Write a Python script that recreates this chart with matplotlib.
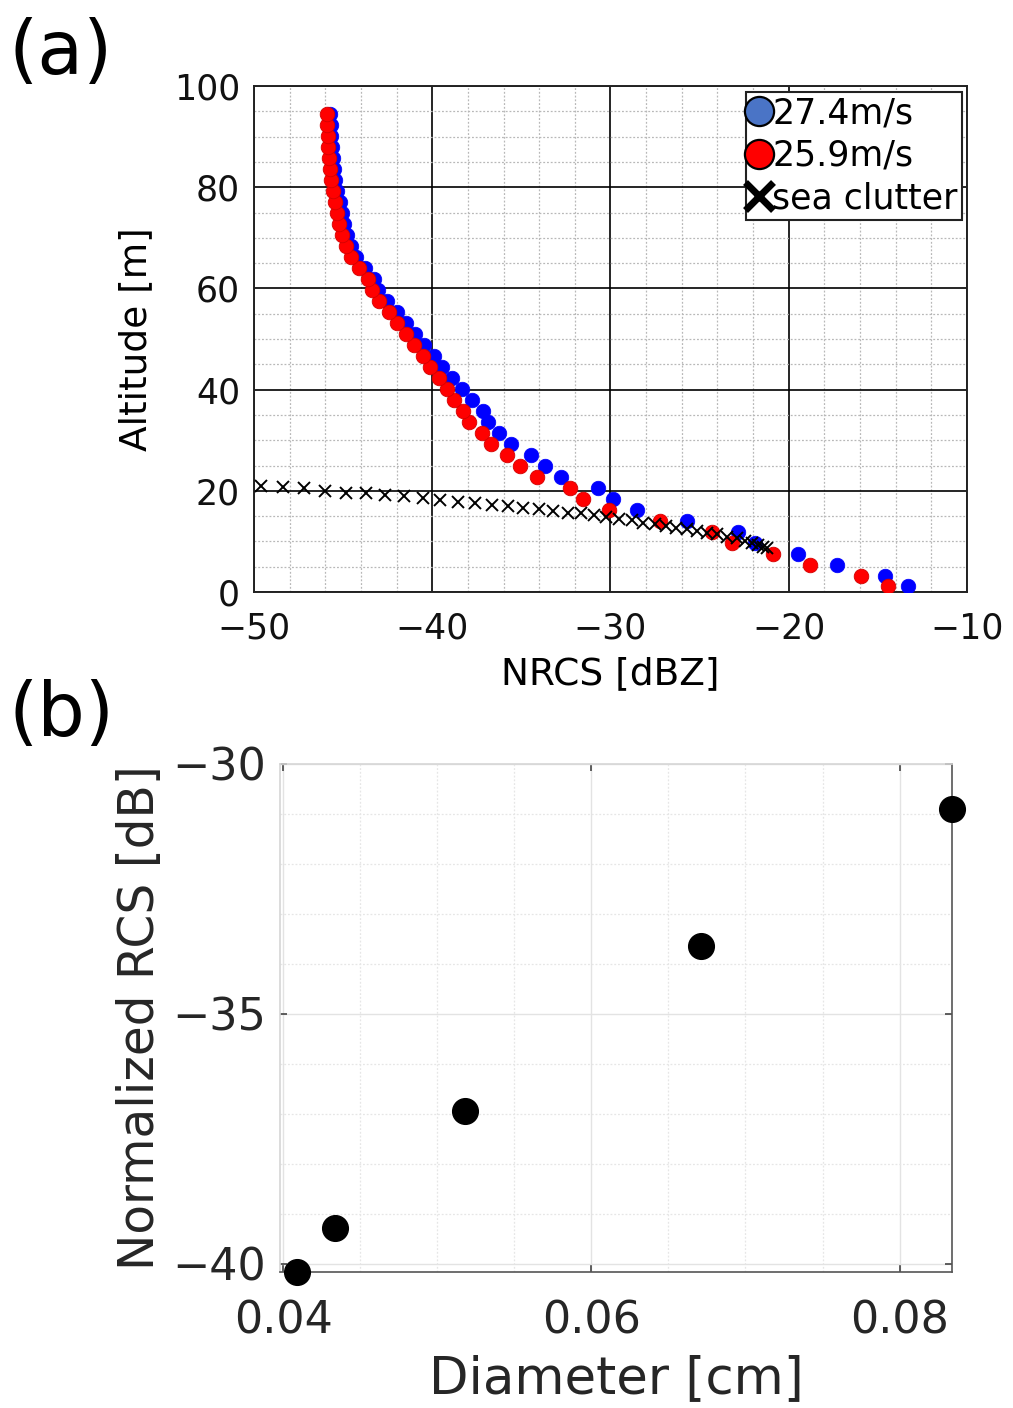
import matplotlib
matplotlib.use("Agg")
import matplotlib.pyplot as plt
from matplotlib.lines import Line2D
from matplotlib.ticker import MultipleLocator, FormatStrFormatter

plt.rcParams['font.family'] = ['DejaVu Sans']

# ---- (a) NRCS profiles versus altitude ----
altitude = [1.10, 3.27, 5.44, 7.61, 9.78, 11.95, 14.12, 16.29, 18.46, 20.63,
            22.80, 24.97, 27.14, 29.31, 31.48, 33.65, 35.82, 37.99, 40.16, 42.33,
            44.50, 46.67, 48.84, 51.01, 53.18, 55.35, 57.52, 59.69, 61.86, 64.03,
            66.20, 68.37, 70.54, 72.71, 74.88, 77.05, 79.22, 81.39, 83.56, 85.73,
            87.90, 90.07, 92.24, 94.41]

nrcs_274 = [-13.33, -14.60, -17.31, -19.46, -21.89, -22.86, -25.73, -28.50, -29.88, -30.68,
            -32.79, -33.67, -34.48, -35.58, -36.24, -36.86, -37.17, -37.79, -38.35, -38.91,
            -39.47, -39.90, -40.45, -40.95, -41.48, -41.96, -42.55, -43.02, -43.27, -43.76,
            -44.27, -44.56, -44.76, -44.93, -45.06, -45.20, -45.34, -45.45, -45.51, -45.56,
            -45.63, -45.67, -45.69, -45.72]

nrcs_259 = [-14.45, -15.95, -18.81, -20.87, -23.18, -24.32, -27.22, -30.07, -31.53, -32.27,
            -34.10, -35.08, -35.79, -36.72, -37.23, -37.92, -38.26, -38.76, -39.19, -39.60,
            -40.13, -40.50, -41.01, -41.47, -41.96, -42.41, -42.97, -43.40, -43.62, -44.09,
            -44.58, -44.85, -45.05, -45.21, -45.32, -45.45, -45.58, -45.68, -45.73, -45.77,
            -45.83, -45.87, -45.89, -45.92]

clutter_nrcs = [-49.61, -48.39, -47.18, -46.00, -44.84, -43.72, -42.63, -41.57, -40.54, -39.57,
                -38.57, -37.58, -36.65, -35.77, -34.89, -34.03, -33.21, -32.40, -31.65, -30.93,
                -30.24, -29.52, -28.81, -28.16, -27.50, -26.89, -26.33, -25.73, -25.16, -24.60,
                -24.04, -23.48, -22.92, -22.45, -22.06, -21.73, -21.44, -21.22]
clutter_alt = [20.95, 20.69, 20.49, 20.02, 19.62, 19.51, 19.17, 18.91, 18.58, 18.18,
               17.79, 17.53, 17.19, 17.00, 16.66, 16.34, 16.07, 15.71, 15.55, 15.22,
               14.88, 14.47, 14.15, 13.74, 13.44, 13.10, 12.71, 12.45, 12.06, 11.72,
               11.46, 10.93, 10.61, 10.18, 9.78, 9.39, 8.99, 8.64]

series_labels = ['27.4m/s', '25.9m/s', 'sea clutter']

# ---- (b) normalized RCS versus drop diameter ----
diameter = [0.0409, 0.0434, 0.0518, 0.0671, 0.0834]
norm_rcs = [-40.16, -39.28, -36.94, -33.65, -30.90]

fig = plt.figure(figsize=(10.13, 14.08), dpi=100)

# Panel (a)
ax1 = fig.add_axes([0.2507, 0.5795, 0.7039, 0.3594])
ax1.plot(nrcs_274, altitude, 'o', color='#0000ff', markersize=10.5,
         markeredgecolor='#0000ff', markeredgewidth=0.5, zorder=3)
ax1.plot(nrcs_259, altitude, 'o', color='#ff0000', markersize=10.5,
         markeredgecolor='#d40000', markeredgewidth=0.6, zorder=4)
ax1.plot(clutter_nrcs, clutter_alt, 'x', color='black', markersize=9,
         markeredgewidth=1.4, zorder=5)

ax1.set_xlim(-50, -10)
ax1.set_ylim(0, 100)
ax1.xaxis.set_major_locator(MultipleLocator(10))
ax1.yaxis.set_major_locator(MultipleLocator(20))
ax1.xaxis.set_minor_locator(MultipleLocator(2))
ax1.yaxis.set_minor_locator(MultipleLocator(5))
ax1.grid(which='major', color='black', linewidth=1.2, linestyle='-', zorder=1)
ax1.grid(which='minor', color='#b8b8b8', linewidth=0.9, linestyle=(0, (1.5, 1.5)), zorder=1)
ax1.set_axisbelow(True)
for s in ax1.spines.values():
    s.set_linewidth(1.4)
    s.set_color('#222222')
ax1.tick_params(which='both', direction='in', length=0, labelsize=25, colors='#111111')
ax1.tick_params(axis='x', pad=14)
ax1.tick_params(axis='y', pad=10)
ax1.set_xlabel('NRCS [dBZ]', fontsize=27, labelpad=8)
ax1.set_ylabel('Altitude [m]', fontsize=27, labelpad=14)

legend_handles = [
    Line2D([], [], linestyle='none', marker='o', markersize=21,
           markerfacecolor='#4a74c6', markeredgecolor='black', markeredgewidth=1.6),
    Line2D([], [], linestyle='none', marker='o', markersize=21,
           markerfacecolor='#ff0000', markeredgecolor='black', markeredgewidth=1.6),
    Line2D([], [], linestyle='none', marker='x', markersize=20,
           color='black', markeredgewidth=5),
]
leg = ax1.legend(legend_handles, series_labels, loc='upper right',
                 bbox_to_anchor=(0.993, 0.988), borderaxespad=0, fontsize=25,
                 handlelength=0.55, handletextpad=0.1, labelspacing=0.25,
                 borderpad=0.12, fancybox=False, framealpha=1, edgecolor='#222222')
leg.get_frame().set_linewidth(1.5)

fig.text(0.008, 0.988, '(a)', fontsize=54, va='top', ha='left')

# Panel (b)
ax2 = fig.add_axes([0.2764, 0.0966, 0.6634, 0.3608])
ax2.plot(diameter, norm_rcs, 'o', color='black', markersize=18.5, clip_on=False, zorder=5)
ax2.set_xlim(0.0398, max(diameter))
ax2.set_ylim(min(norm_rcs), -30)
ax2.xaxis.set_major_locator(MultipleLocator(0.02))
ax2.yaxis.set_major_locator(MultipleLocator(5))
ax2.xaxis.set_minor_locator(MultipleLocator(0.005))
ax2.yaxis.set_minor_locator(MultipleLocator(1))
ax2.xaxis.set_major_formatter(FormatStrFormatter('%.2f'))
ax2.grid(which='major', color='#e3e3e3', linewidth=1.0, linestyle='-')
ax2.grid(which='minor', color='#e6e6e6', linewidth=0.9, linestyle=(0, (1.5, 1.5)))
ax2.set_axisbelow(True)
ax2.spines['left'].set_color('#d6d6d6')
ax2.spines['top'].set_color('#d6d6d6')
ax2.spines['right'].set_color('#555555')
ax2.spines['bottom'].set_color('#555555')
for s in ax2.spines.values():
    s.set_linewidth(1.2)
ax2.tick_params(which='major', direction='in', length=5, width=1.2, color='#444444',
                labelsize=32, labelcolor='#262626', top=True, right=True)
ax2.tick_params(axis='x', pad=20)
ax2.tick_params(axis='y', pad=10)
ax2.tick_params(which='minor', length=0)
ax2.set_xlabel('Diameter [cm]', fontsize=37, color='#262626', labelpad=8)
ax2.set_ylabel('Normalized RCS [dB]', fontsize=35, color='#262626', labelpad=6)

fig.text(0.008, 0.518, '(b)', fontsize=54, va='top', ha='left')

fig.savefig('out.png', dpi=100)
